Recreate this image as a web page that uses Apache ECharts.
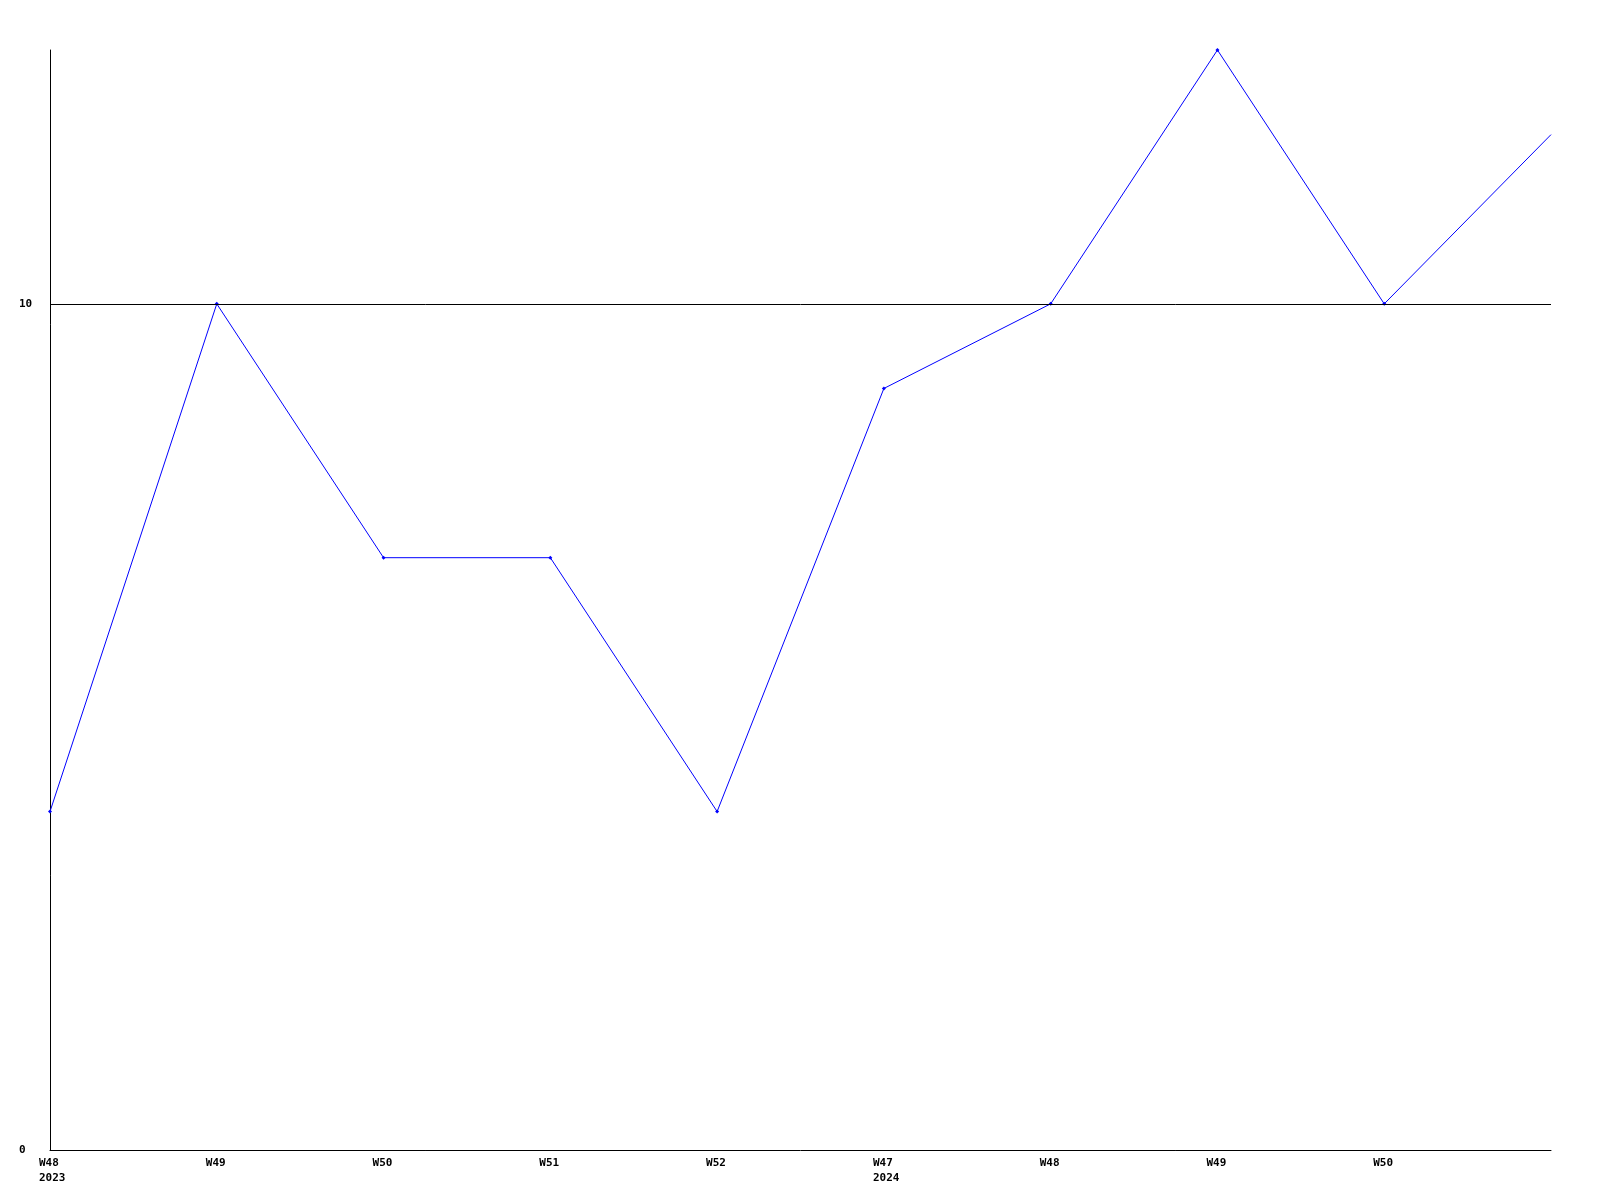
<!DOCTYPE html>
<html><head><meta charset="utf-8">
<script src="https://cdn.jsdelivr.net/npm/echarts@6/dist/echarts.min.js"></script>
<style>html,body{margin:0;padding:0;background:#fff}#c{width:1600px;height:1200px}</style>
</head><body><div id="c"></div>
<script>
var weeks = ['W48','W49','W50','W51','W52','W47','W48','W49','W50','W51'];
var years = ['2023','','','','','2024','','','',''];
var values = [4,10,7,7,4,9,10,13,10,12];
var yTicks = [0,10];
var FONT = 'DejaVu Sans Mono';
var chart = echarts.init(document.getElementById('c'), null, {renderer:'canvas'});
var seriesData = values.map(function(v,i){
  return i===values.length-1 ? {value:v, symbol:'none'} : v;
});
chart.setOption({
  animation:false,
  backgroundColor:'#fff',
  grid:{left:50,right:49,top:50,bottom:50,containLabel:false},
  xAxis:{
    type:'category', data:weeks, boundaryGap:false,
    axisLine:{lineStyle:{color:'#000',width:1}},
    axisTick:{show:false},
    splitLine:{show:false},
    axisLabel:{
      interval:0, align:'left', margin:6, padding:[0,0,0,-11],
      fontFamily:FONT, fontWeight:'bold', fontSize:11, color:'#000', lineHeight:15,
      formatter:function(v,i){ if(i===weeks.length-1) return ''; return years[i] ? v+'\n'+years[i] : v; }
    }
  },
  yAxis:{
    type:'value', min:0, max:13, interval:10,
    axisLine:{show:true,lineStyle:{color:'#000',width:1}},
    axisTick:{show:false},
    splitLine:{show:false},
    axisLabel:{
      showMaxLabel:false, align:'left', margin:31,
      fontFamily:FONT, fontWeight:'bold', fontSize:11, color:'#000',
      formatter:function(v){ return yTicks.indexOf(v)>=0 ? String(v) : ''; }
    }
  },
  series:[{
    type:'line', data:seriesData,
    symbol:'diamond', symbolSize:4, showSymbol:true,
    lineStyle:{color:'#0000ff',width:1},
    itemStyle:{color:'#0000ff'},
    markLine:{
      silent:true, symbol:'none', label:{show:false},
      lineStyle:{color:'#000',width:1,type:'solid'},
      data:[{yAxis:10}]
    }
  }]
});
</script></body></html>
